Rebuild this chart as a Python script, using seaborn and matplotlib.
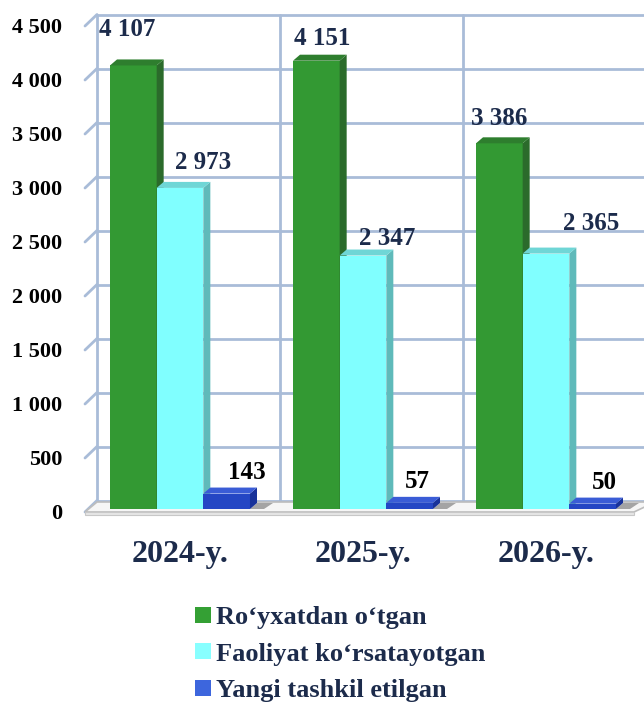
import matplotlib
matplotlib.use("Agg")
import matplotlib.pyplot as plt
import seaborn as sns
import pandas as pd
from matplotlib.patches import Polygon, Patch
from matplotlib.transforms import ScaledTranslation

# ---------------- data ----------------
years = ["2024-y.", "2025-y.", "2026-y."]
series = ["Ro\u2018yxatdan o\u2018tgan", "Faoliyat ko\u2018rsatayotgan", "Yangi tashkil etilgan"]
registered = [4107, 4151, 3386]
active = [2973, 2347, 2365]
new_created = [143, 57, 50]
yticks = [0, 500, 1000, 1500, 2000, 2500, 3000, 3500, 4000, 4500]
ytick_labels = ["0", "500", "1 000", "1 500", "2 000", "2 500", "3 000", "3 500", "4 000", "4 500"]
value_labels = [["4 107", "4 151", "3 386"], ["2 973", "2 347", "2 365"], ["143", "57", "50"]]

# ---------------- style ----------------
front_cols = ["#339933", "#80FFFF", "#2446C4"]
side_cols = ["#2B6B2B", "#5FBABA", "#18329A"]
top_cols = ["#2E7E2E", "#6FD6D6", "#3A5CD6"]
legend_cols = ["#34A034", "#88FFFF", "#3D66DD"]
label_cols = ["#1C2B4B", "#1C2B4B", "#000000"]
# label offsets in pixels (dx from bar centre, baseline gap above bar top)
label_dx = [[-6, 6, 0], [23, 24, 45], [20, 8, 12]]
label_dy = [[29, 16, 18], [19, 11, 24], [15, 15, 15]]
grid_col = "#A9BCD8"
navy = "#1C2B4B"

sns.set_theme(style="white")
plt.rcParams["font.family"] = ["Liberation Serif", "DejaVu Serif"]
plt.rcParams["font.weight"] = "bold"

W, H = 644, 702
fig = plt.figure(figsize=(W / 100, H / 100), dpi=100)
ax_left, ax_right, ax_bottom, ax_top = 88.5, 637.5, 509, 23
ax = fig.add_axes([ax_left / W, 1 - ax_bottom / H, (ax_right - ax_left) / W, (ax_bottom - ax_top) / H])

df = pd.DataFrame({
    "year": years * 3,
    "series": [series[0]] * 3 + [series[1]] * 3 + [series[2]] * 3,
    "value": registered + active + new_created,
})
sns.barplot(data=df, x="year", y="value", hue="series", order=years, hue_order=series,
            palette=front_cols, saturation=1, width=0.765, ax=ax, legend=False,
            edgecolor="none", linewidth=0)

xl, xr = -0.5, 2.5
ax.set_xlim(xl, xr)
ax.set_ylim(0, 4500)
for s in ax.spines.values():
    s.set_visible(False)

pxx = (ax_right - ax_left) / (xr - xl)   # pixels per x unit
pxy = (ax_bottom - ax_top) / 4500.0       # pixels per y unit
def dxu(p):
    return p / pxx
def dyu(p):
    return p / pxy

# back wall offset / floor offsets (pixels)
wx, wy = 8.5, 8.5
fx, fy = -3.5, -3

# back wall grid
for v in yticks:
    ax.plot([xl + dxu(wx), xr + dxu(wx) + 1], [v + dyu(wy)] * 2, color=grid_col, lw=2.0,
            zorder=0.5, clip_on=False, solid_capstyle="butt")
    ax.plot([xl + dxu(fx), xl + dxu(wx)], [v + dyu(fy), v + dyu(wy)], color=grid_col, lw=2.0,
            zorder=0.5, clip_on=False)
for xv in [xl, 0.5, 1.5]:
    ax.plot([xv + dxu(wx)] * 2, [dyu(wy), 4500 + dyu(wy)], color=grid_col, lw=2.0,
            zorder=0.5, clip_on=False)

# floor
floor = Polygon([(xl + dxu(fx), dyu(fy)), (xr + dxu(fx), dyu(fy)),
                 (xr + dxu(wx) + 0.05, dyu(7)), (xl + dxu(wx), dyu(7))],
                closed=True, facecolor="#F6F6F6", edgecolor="#BDBDBD", lw=1.2,
                zorder=1, clip_on=False)
ax.add_patch(floor)
slab = Polygon([(xl + dxu(fx), dyu(fy)), (xr + dxu(fx), dyu(fy)),
                (xr + dxu(fx), dyu(fy - 3)), (xl + dxu(fx), dyu(fy - 3))],
               closed=True, facecolor="#E6E6E6", edgecolor="#C8C8C8", lw=0.8,
               zorder=1, clip_on=False)
ax.add_patch(slab)

# 3D bars: faces, shadow, labels
bx, by = 7, 6
for i, cont in enumerate(ax.containers):
    for j, bar in enumerate(cont):
        x0, w, h = bar.get_x(), bar.get_width(), bar.get_height()
        z = 3 + i
        bar.set_zorder(z)
        if i == 2:
            shadow = Polygon([(x0 + w, 0), (x0 + w + dxu(bx), dyu(by)),
                              (x0 + w + dxu(bx + 16), dyu(by)), (x0 + w + dxu(14), 0)],
                             closed=True, facecolor="#6E6E6E", edgecolor="none", alpha=0.6,
                             zorder=2, clip_on=False)
            ax.add_patch(shadow)
        side = Polygon([(x0 + w, 0), (x0 + w, h), (x0 + w + dxu(bx), h + dyu(by)),
                        (x0 + w + dxu(bx), dyu(by))], closed=True,
                       facecolor=side_cols[i], edgecolor="none", zorder=z, clip_on=False)
        top = Polygon([(x0, h), (x0 + w, h), (x0 + w + dxu(bx), h + dyu(by)),
                       (x0 + dxu(bx), h + dyu(by))], closed=True,
                      facecolor=top_cols[i], edgecolor="none", zorder=z, clip_on=False)
        ax.add_patch(side)
        ax.add_patch(top)
        ax.annotate(value_labels[i][j], xy=(x0 + w / 2, h), xytext=(label_dx[i][j], label_dy[i][j]),
                    textcoords="offset pixels", ha="center", va="baseline",
                    fontsize=18, fontweight="bold", color=label_cols[i], zorder=10,
                    annotation_clip=False)

# axes ticks
ax.set_yticks(yticks)
ax.set_yticklabels(ytick_labels)
ax.tick_params(axis="y", length=0, pad=19, labelsize=16, labelcolor="black")
shift = ScaledTranslation(0, -2.5 / 100, fig.dpi_scale_trans)
for lbl in ax.get_yticklabels():
    lbl.set_fontweight("bold")
    lbl.set_transform(lbl.get_transform() + shift)
ax.set_xticks(range(len(years)))
ax.set_xticklabels(years)
ax.tick_params(axis="x", length=0, pad=22, labelsize=23, labelcolor=navy)
for lbl in ax.get_xticklabels():
    lbl.set_fontweight("bold")
ax.set_xlabel("")
ax.set_ylabel("")
ax.grid(False)

# legend
handles = [Patch(facecolor=c, edgecolor="none") for c in legend_cols]
fig.legend(handles, series, loc="upper left", bbox_to_anchor=(195 / W, 1 - 606 / H),
           frameon=False, prop=dict(family=["Liberation Serif", "DejaVu Serif"], weight="bold", size=19),
           labelcolor=navy, handlelength=0.6, handleheight=0.55, handletextpad=0.2,
           labelspacing=0.52, borderpad=0, borderaxespad=0)

fig.savefig("out.png", dpi=100)
